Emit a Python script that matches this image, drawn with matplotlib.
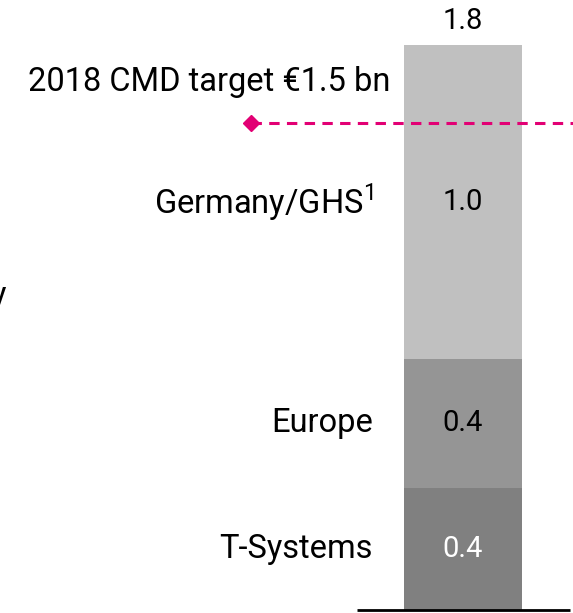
import matplotlib
matplotlib.use("Agg")
import matplotlib.pyplot as plt

# data
categories = ["T-Systems", "Europe", "Germany/GHS$^{1}$"]
values = [0.39, 0.41, 1.0]
value_labels = ["0.4", "0.4", "1.0"]
total_label = "1.8"
target = 1.55
target_label = "2018 CMD target €1.5 bn"

colors = ["#808080", "#959595", "#c0c0c0"]
text_colors = ["white", "black", "black"]
magenta = "#e20074"

plt.rcParams["font.family"] = ["Roboto", "DejaVu Sans"]
plt.rcParams["mathtext.fontset"] = "custom"
plt.rcParams["mathtext.rm"] = "Roboto"

W, H = 573, 613
px_per_unit = 314.0
base_px = 3

fig = plt.figure(figsize=(W / 100, H / 100), dpi=100)
ax = fig.add_axes([0, 0, 1, 1])
ax.set_xlim(0, W)
ax.set_ylim(-base_px / px_per_unit, (H - base_px) / px_per_unit)
ax.axis("off")

bar_x = 463
bar_w = 118
bottom = 0
for cat, v, lab, c, tc in zip(categories, values, value_labels, colors, text_colors):
    ax.bar(bar_x, v, width=bar_w, bottom=bottom, color=c, linewidth=0)
    mid = bottom + v / 2
    ax.text(bar_x, mid, lab, ha="center", va="center", fontsize=21, color=tc)
    ax.text(373, mid, cat, ha="right", va="center", fontsize=23.5, color="black")
    bottom += v

ax.text(bar_x, bottom + 0.075, total_label, ha="center", va="center", fontsize=21)

# baseline
ax.plot([357, 570], [0, 0], color="black", linewidth=2, solid_capstyle="butt")

# target line
ax.plot([251, W], [target, target], color=magenta, linestyle=(0, (3.4, 2.4)), linewidth=2.2)
ax.plot([251], [target], marker="D", color=magenta, markersize=8)
ax.text(390, target + 0.13, target_label, ha="right", va="center", fontsize=23.5)

# clipped label at the left edge
ax.text(6, 1.0, "y", ha="right", va="center", fontsize=23.5)

fig.savefig("out.png", dpi=100)
